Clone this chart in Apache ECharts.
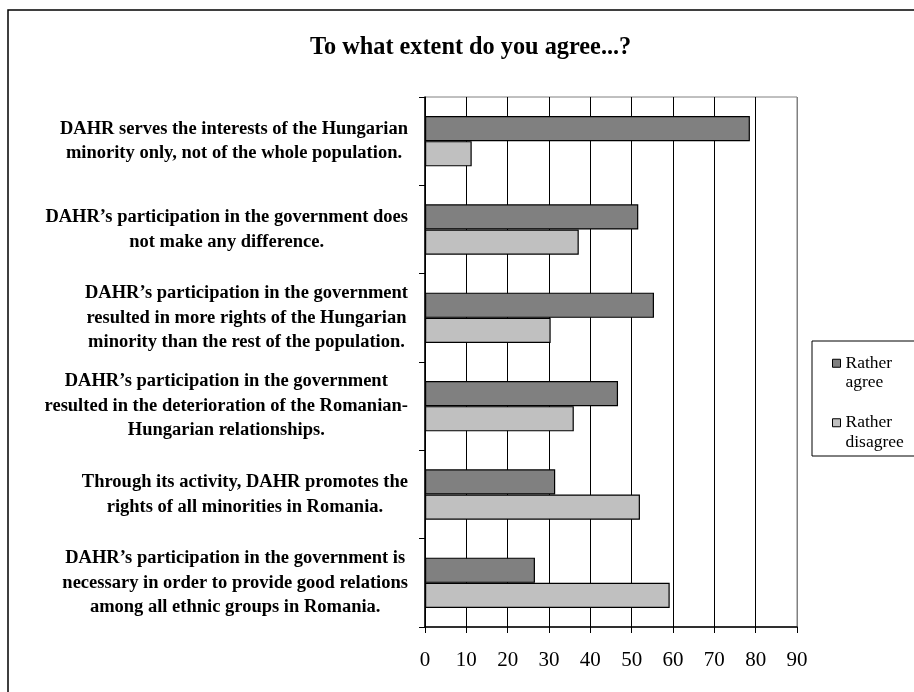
<!DOCTYPE html>
<html>
<head>
<meta charset="utf-8">
<script src="https://cdn.jsdelivr.net/npm/echarts@6/dist/echarts.min.js"></script>
<style>
html,body{margin:0;padding:0;background:#fff;}
#chart{width:914px;height:692px;}
</style>
</head>
<body>
<div id="chart"></div>
<script>
const titleText = 'To what extent do you agree...?';
const categories = [
  'DAHR serves the interests of the Hungarian\nminority only, not of the whole population.',
  'DAHR\u2019s participation in the government does\nnot make any difference.',
  'DAHR\u2019s participation in the government\nresulted in more rights of the Hungarian\nminority than the rest of the population.',
  'DAHR\u2019s participation in the government\nresulted in the deterioration of the Romanian-\nHungarian relationships.',
  'Through its activity, DAHR promotes the\nrights of all minorities in Romania.',
  'DAHR\u2019s participation in the government is\nnecessary in order to provide good relations\namong all ethnic groups in Romania.'
];
const seriesNames = ['Rather agree', 'Rather disagree'];
const ratherAgree = [78.6, 51.6, 55.4, 46.7, 31.5, 26.6];
const ratherDisagree = [11.3, 37.2, 30.4, 36.0, 52.0, 59.2];
const xTicks = [0, 10, 20, 30, 40, 50, 60, 70, 80, 90];

const FONT = '"Liberation Serif", "Times New Roman", serif';
const chart = echarts.init(document.getElementById('chart'), null, {renderer: 'canvas'});

const splitColors = xTicks.map((t, i) => i === xTicks.length - 1 ? '#808080' : '#000000');

chart.setOption({
  backgroundColor: '#ffffff',
  animation: false,
  title: {
    text: titleText,
    left: 305,
    top: 31,
    textStyle: {fontFamily: FONT, fontSize: 24.3, fontWeight: 'bold', color: '#000'}
  },
  graphic: [
    {type: 'rect', shape: {x: 8, y: 10, width: 1000, height: 1000}, style: {fill: 'none', stroke: '#000', lineWidth: 1.5}, silent: true},
    {type: 'rect', shape: {x: 812, y: 341, width: 110, height: 115}, style: {fill: 'none', stroke: '#000', lineWidth: 1}, silent: true}
  ],
  legend: {
    orient: 'vertical',
    left: 832,
    top: 334,
    padding: 0,
    itemGap: 1,
    icon: 'rect',
    itemWidth: 8,
    itemHeight: 8,
    itemStyle: {borderColor: '#000', borderWidth: 1},
    data: seriesNames,
    formatter: function (name) { return '\u00a0\n' + name.replace(' ', '\n'); },
    textStyle: {fontFamily: FONT, fontSize: 17.5, color: '#000', lineHeight: 19.5}
  },
  grid: {
    left: 425, right: 117, top: 97, bottom: 65,
    show: true, borderColor: '#808080', borderWidth: 1, backgroundColor: 'transparent'
  },
  xAxis: {
    type: 'value',
    min: 0, max: 90, interval: 10,
    axisLine: {show: true, lineStyle: {color: '#000', width: 1.5}},
    axisTick: {show: true, length: 6, lineStyle: {color: '#000', width: 1}},
    axisLabel: {fontFamily: FONT, fontSize: 21, color: '#000', margin: 23},
    splitLine: {show: true, lineStyle: {color: splitColors, width: 1}}
  },
  yAxis: {
    type: 'category',
    inverse: true,
    data: categories,
    axisLine: {show: true, lineStyle: {color: '#000', width: 1.5}},
    axisTick: {show: true, length: 6, inside: false, lineStyle: {color: '#000', width: 1}},
    axisLabel: {
      margin: 17,
      align: 'right',
      formatter: function (v) { return v.split('\n').map(l => '{c|' + l + '}').join('\n'); },
      rich: {c: {fontFamily: FONT, fontSize: 18.5, fontWeight: 'bold', color: '#000', lineHeight: 24.5, align: 'center'}}
    },
    splitLine: {show: false}
  },
  series: [
    {
      name: seriesNames[0], type: 'bar', data: ratherAgree,
      barGap: '0%', barCategoryGap: '43%',
      itemStyle: {color: '#808080', borderColor: '#000', borderWidth: 1.2}
    },
    {
      name: seriesNames[1], type: 'bar', data: ratherDisagree,
      barGap: '0%', barCategoryGap: '43%',
      itemStyle: {color: '#c0c0c0', borderColor: '#000', borderWidth: 1.2}
    }
  ]
});
</script>
</body>
</html>
